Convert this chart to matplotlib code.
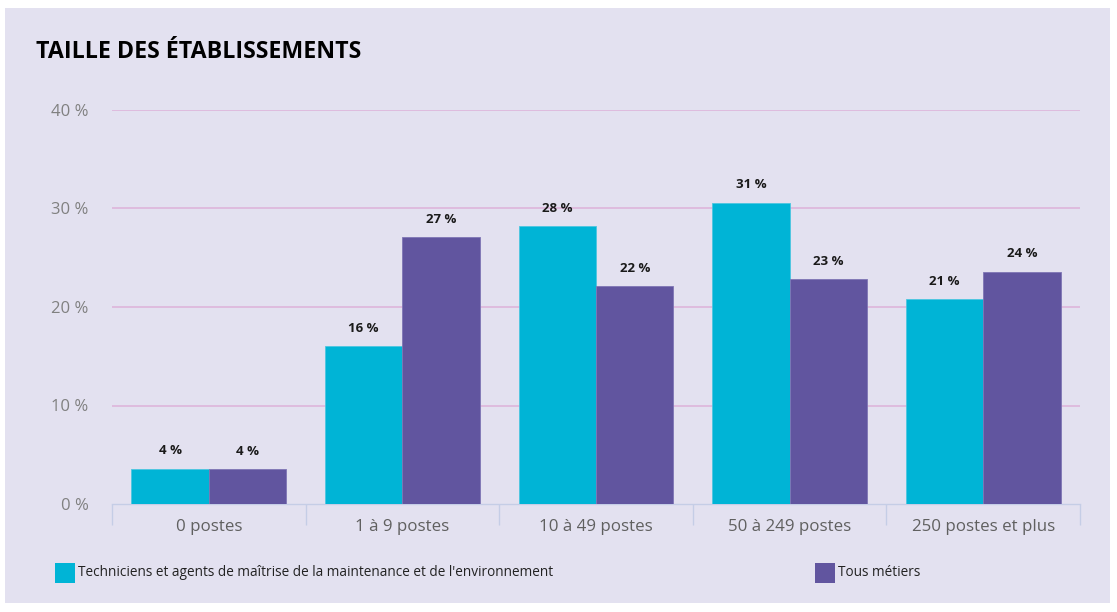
import matplotlib
matplotlib.use("Agg")
import matplotlib.pyplot as plt
from matplotlib.patches import Rectangle
import numpy as np

plt.rcParams['font.family'] = ['Open Sans', 'DejaVu Sans']

categories = ["0 postes", "1 à 9 postes", "10 à 49 postes", "50 à 249 postes", "250 postes et plus"]
series_names = ["Techniciens et agents de maîtrise de la maintenance et de l'environnement", "Tous métiers"]
techniciens = [3.6, 16.0, 28.2, 30.6, 20.8]
tous_metiers = [3.55, 27.1, 22.1, 22.8, 23.6]
yticks = [0, 10, 20, 30, 40]
title = "TAILLE DES ÉTABLISSEMENTS"

c1 = "#00B4D6"
c2 = "#61559F"
bg = "#E3E1F0"

W, H = 1117, 612
fig = plt.figure(figsize=(W / 100, H / 100), dpi=100)
fig.patch.set_facecolor("white")
fig.add_artist(Rectangle((5 / W, 9 / H), (1110 - 5) / W, (604 - 9) / H,
                         transform=fig.transFigure, facecolor=bg, edgecolor="none", zorder=-10))

ax = fig.add_axes([112 / W, 1 - 504 / H, (1080 - 112) / W, (504 - 110) / H])
ax.set_facecolor("none")
x = np.arange(len(categories))
bw = 0.4
b1 = ax.bar(x - bw / 2, techniciens, bw, color=c1, edgecolor="#4cc6e0", linewidth=0.6, zorder=3)
b2 = ax.bar(x + bw / 2, tous_metiers, bw, color=c2, edgecolor="#7f75b5", linewidth=0.6, zorder=3)

for bars, vals in ((b1, techniciens), (b2, tous_metiers)):
    for r, v in zip(bars, vals):
        ax.annotate(f"{round(v)} %", (r.get_x() + r.get_width() / 2, v), xytext=(0, 8),
                    textcoords="offset points", ha="center", va="bottom",
                    fontsize=9.5, fontweight="bold", color="#1a1a1a")

ax.set_xlim(-0.5, len(categories) - 0.5)
ax.set_ylim(0, 40)
ax.set_yticks(yticks)
ax.set_yticklabels([f"{t} %" for t in yticks], fontsize=12, color="#808080")
for t in yticks[1:]:
    ax.axhline(t, color="#DDB5DB", linewidth=1.2, zorder=1)
ax.tick_params(axis="y", length=0, pad=17)

ax.set_xticks(x)
ax.set_xticklabels(categories, fontsize=12.2, color="#606060")
ax.tick_params(axis="x", length=0, pad=11)
ax.set_xticks(np.arange(-0.5, len(categories)), minor=True)
ax.tick_params(axis="x", which="minor", length=15, color="#C5CDE6", width=1)

for s in ["top", "right", "left"]:
    ax.spines[s].set_visible(False)
ax.spines["bottom"].set_color("#C5CDE6")
ax.spines["bottom"].set_linewidth(1)

fig.text(36 / W, 1 - 52 / H, title, fontsize=16.7, fontweight="bold", color="black", va="center", ha="left")

# legend
for (lx, name, col) in ((55, series_names[0], c1), (815, series_names[1], c2)):
    fig.add_artist(Rectangle((lx / W, 1 - 583 / H), 20 / W, 20 / H, transform=fig.transFigure,
                             facecolor=col, edgecolor="none"))
    fig.text((lx + 23) / W, 1 - 573 / H, name, fontsize=9.8, color="#222222", va="center", ha="left")

fig.savefig("out.png", dpi=100, facecolor=fig.get_facecolor())
